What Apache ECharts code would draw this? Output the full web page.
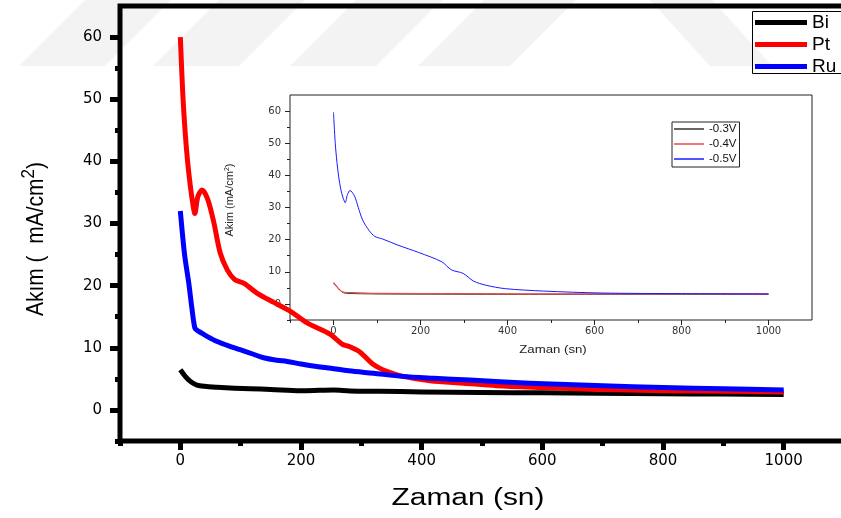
<!DOCTYPE html>
<html>
<head>
<meta charset="utf-8">
<script src="https://cdn.jsdelivr.net/npm/echarts@6/dist/echarts.min.js"></script>
<style>html,body{margin:0;padding:0;background:#fff;}#c{width:841px;height:518px;}</style>
</head>
<body>
<div id="c"></div>
<script>
// ---- data (main chart) ----
const biT = [0, 5, 11, 18, 27.5, 40, 61, 90, 116, 150, 199, 230, 254, 281, 330, 400, 500, 600, 690, 800, 900, 1000];
const biV = [6.45, 5.8, 5.1, 4.5, 4.0, 3.8, 3.65, 3.5, 3.4, 3.3, 3.1, 3.15, 3.2, 3.06, 3.0, 2.9, 2.8, 2.75, 2.7, 2.6, 2.55, 2.5];

const ptT = [0, 4, 8, 12, 16.6, 21, 24, 29, 36, 45, 55, 66, 78, 90, 105, 127, 155, 182, 210, 248, 268, 280, 298, 320, 342, 369, 414, 470, 524, 600, 690, 800, 900, 1000];
const ptV = [60, 51, 44.7, 40, 36, 33, 31.6, 34.3, 35.4, 34, 30.4, 25.3, 22.5, 21, 20.4, 18.8, 17.3, 15.9, 14, 12.2, 10.6, 10.2, 9.3, 7.3, 6.2, 5.4, 4.7, 4.3, 3.9, 3.6, 3.3, 3.1, 3.0, 2.9];

const ruT = [0, 7, 14, 19, 24, 28, 33, 45, 61, 80, 99, 120, 138, 160, 177, 200, 226, 250, 279, 320, 369, 420, 480, 579, 700, 800, 900, 1000];
const ruV = [32, 25, 20.4, 16.5, 13.2, 12.8, 12.5, 11.8, 11, 10.3, 9.7, 9.0, 8.4, 8.0, 7.8, 7.4, 7.0, 6.7, 6.3, 5.9, 5.4, 5.1, 4.8, 4.3, 3.9, 3.6, 3.4, 3.2];

// ---- data (inset) ----
const v03T = [0, 5, 10, 15, 20, 25, 30, 50, 100, 200, 400, 600, 800, 1000];
const v03V = [6.5, 5.8, 5.0, 4.3, 3.7, 3.4, 3.3, 3.2, 3.1, 3.05, 3.0, 3.0, 3.0, 3.0];
const v04T = [0, 5, 10, 15, 20, 25, 30, 60, 100, 300, 600, 1000];
const v04V = [6.6, 5.8, 5.0, 4.3, 3.8, 3.6, 3.55, 3.45, 3.3, 3.2, 3.1, 3.1];
const v05T = [0, 4, 8, 12, 17, 22, 27, 32, 38, 48.5, 57, 67, 82, 95, 113, 148, 196, 249, 271, 298, 322, 351, 395, 483, 615, 800, 1000];
const v05V = [59.6, 50, 44, 39.5, 35.5, 33, 31.5, 34, 35.3, 33.5, 30, 26.1, 22.8, 21, 20.2, 18.3, 16.0, 13.1, 10.6, 9.5, 7.1, 5.8, 4.75, 4.0, 3.4, 3.2, 3.1];

// ---- tick labels ----
const xMajor = [0, 200, 400, 600, 800, 1000];
const xMinor = [-100, 100, 300, 500, 700, 900];
const yMajor = [0, 10, 20, 30, 40, 50, 60];
const yMinor = [-5, 5, 15, 25, 35, 45, 55];

const pairs = (t, v) => t.map((x, i) => [x, v[i]]);

const chart = echarts.init(document.getElementById('c'), null, {renderer: 'canvas'});

function axisCommon(grid, ticks, labels, len, w, color, fs, margin, labColor) {
  return {
    type: 'value', gridIndex: grid,
    axisLine: {show: false, onZero: false}, splitLine: {show: false},
    axisTick: {show: true, inside: false, length: len, customValues: ticks, lineStyle: {width: w, color: color}},
    axisLabel: labels ? {show: true, customValues: labels, fontSize: fs, margin: margin, color: labColor,
      fontFamily: 'DejaVu Sans', formatter: v => String(v)} : {show: false}
  };
}
function xAx() { return Object.assign(axisCommon.apply(null, arguments), {position: 'bottom', min: -100, max: 1100}); }
function yAx() { return Object.assign(axisCommon.apply(null, arguments), {position: 'left', min: -5, max: 65}); }

const wm = '#f3f3f3';
function stripe(x0, x1, dx) {
  return {type: 'polygon', z: -10, silent: true,
    shape: {points: [[x0, 66], [x1, 66], [x1 + dx, 0], [x0 + dx, 0]]},
    style: {fill: wm}};
}

const lineBase = {type: 'line', showSymbol: false, symbol: 'none', smooth: 0.3, animation: false};
const ls = (w, c) => ({width: w, color: c, join: 'round', cap: 'butt'});

chart.setOption({
  animation: false,
  backgroundColor: '#fff',
  grid: [
    {left: 120, top: 6, width: 724, height: 435, outerBoundsMode: 'none', containLabel: false,
     show: true, borderColor: '#000', borderWidth: 5, backgroundColor: 'transparent'},
    {left: 290, top: 95, width: 522, height: 225, outerBoundsMode: 'none', containLabel: false,
     show: true, borderColor: '#222', borderWidth: 1, backgroundColor: 'transparent'}
  ],
  xAxis: [
    xAx(0, xMajor, xMajor, 9, 5, '#000', 15, 13, '#000'),
    xAx(0, xMinor, null, 5, 5, '#000'),
    xAx(1, xMajor, xMajor, 5, 1, '#222', 10, 6, '#333'),
    xAx(1, xMinor, null, 3, 1, '#222')
  ],
  yAxis: [
    yAx(0, yMajor, yMajor, 10, 5, '#000', 15, 18, '#000'),
    yAx(0, yMinor, null, 5, 5, '#000'),
    yAx(1, yMajor, yMajor, 5, 1, '#222', 10, 9, '#333'),
    yAx(1, yMinor, null, 3, 1, '#222')
  ],
  legend: [
    {data: ['Bi', 'Pt', 'Ru'], orient: 'vertical', left: 752, top: 11, icon: 'rect', itemWidth: 52, itemHeight: 5,
     itemGap: 3, padding: [2, 0, 3, 3], borderWidth: 0, selectedMode: false,
     textStyle: {fontSize: 19, color: '#000', fontFamily: 'Liberation Sans'}},
    {data: ['-0.3V', '-0.4V', '-0.5V'], orient: 'vertical', left: 672, top: 122, icon: 'rect', itemWidth: 30, itemHeight: 1.5,
     itemGap: 3, padding: [1, 3, 2, 2], borderColor: '#222', borderWidth: 1, selectedMode: false,
     textStyle: {fontSize: 11.5, color: '#111', fontFamily: 'Liberation Sans'}}
  ],
  series: [
    Object.assign({}, lineBase, {name: 'Bi', xAxisIndex: 0, yAxisIndex: 0, data: pairs(biT, biV), color: '#000', lineStyle: ls(5, '#000')}),
    Object.assign({}, lineBase, {name: 'Pt', xAxisIndex: 0, yAxisIndex: 0, data: pairs(ptT, ptV), color: '#ff0000', lineStyle: ls(5, '#ff0000')}),
    Object.assign({}, lineBase, {name: 'Ru', xAxisIndex: 0, yAxisIndex: 0, data: pairs(ruT, ruV), color: '#0000ff', lineStyle: ls(5, '#0000ff')}),
    Object.assign({}, lineBase, {name: '-0.3V', xAxisIndex: 2, yAxisIndex: 2, data: pairs(v03T, v03V), color: '#333', lineStyle: ls(1, '#333')}),
    Object.assign({}, lineBase, {name: '-0.4V', xAxisIndex: 2, yAxisIndex: 2, data: pairs(v04T, v04V), color: '#e84a4a', lineStyle: ls(1.2, '#e84a4a')}),
    Object.assign({}, lineBase, {name: '-0.5V', xAxisIndex: 2, yAxisIndex: 2, data: pairs(v05T, v05V), color: '#1a1aff', lineStyle: ls(1, '#1a1aff')})
  ],
  graphic: [
    stripe(19, 105, 66),
    stripe(153, 239, 66),
    stripe(290, 376, 66),
    stripe(418, 510, 66),
    {type: 'polygon', z: -10, silent: true, shape: {points: [[650, 0], [712, 0], [772, 66], [710, 66]]}, style: {fill: wm}},
    {type: 'rect', z: 50, silent: true, shape: {x: 752.5, y: 11.5, width: 120, height: 62}, style: {fill: 'none', stroke: '#000', lineWidth: 1}},
    {type: 'text', z: 100, x: 468, y: 499, scaleX: 1.3,
     style: {text: 'Zaman (sn)', fontSize: 23, fontFamily: 'Liberation Sans', fill: '#000', align: 'center', verticalAlign: 'middle'}},
    {type: 'text', z: 100, x: 37, y: 239, rotation: Math.PI / 2, scaleY: 1.12,
     style: {text: 'Akım (  mA/cm{s|2})', fontSize: 21, fontFamily: 'Liberation Sans', fill: '#000', align: 'center', verticalAlign: 'middle',
       rich: {s: {fontSize: 17, fontFamily: 'Liberation Sans', fill: '#000', padding: [0, 0, 14, 0]}}}},
    {type: 'text', z: 100, x: 553, y: 350, scaleX: 1.2,
     style: {text: 'Zaman (sn)', fontSize: 11, fontFamily: 'Liberation Sans', fill: '#222', align: 'center', verticalAlign: 'middle'}},
    {type: 'text', z: 100, x: 230, y: 200, rotation: Math.PI / 2,
     style: {text: 'Akim (mA/cm{s|2})', fontSize: 11, fontFamily: 'Liberation Sans', fill: '#222', align: 'center', verticalAlign: 'middle',
       rich: {s: {fontSize: 7, fontFamily: 'Liberation Sans', fill: '#222', padding: [0, 0, 6, 0]}}}}
  ]
});
</script>
</body>
</html>
